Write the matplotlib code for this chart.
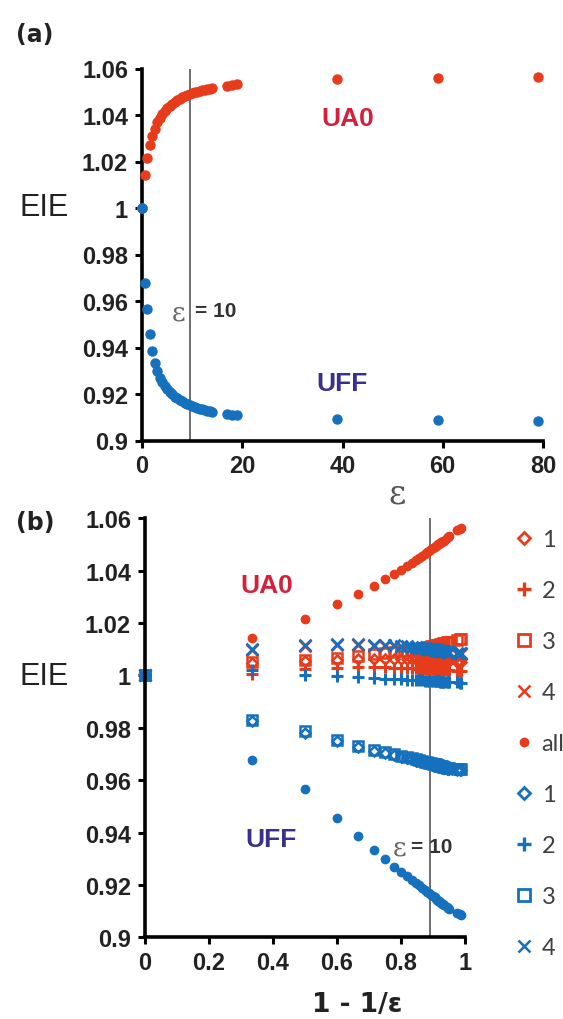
import matplotlib
matplotlib.use("Agg")
import matplotlib.pyplot as plt
from matplotlib.lines import Line2D
import numpy as np

# dielectric constants used in the scan
eps = [1, 1.5, 2, 2.5, 3, 3.5, 4, 4.5, 5, 5.5, 6, 6.5, 7, 7.5, 8, 8.5, 9, 9.5, 10,
       10.5, 11, 11.5, 12, 12.5, 13, 13.5, 14, 14.5, 15, 18, 19, 20, 40, 60, 80]

ua0_all = [1.000, 1.0142, 1.0215, 1.0272, 1.0310, 1.0340, 1.0368, 1.0388, 1.0404, 1.0418,
           1.0430, 1.0440, 1.0449, 1.0457, 1.0464, 1.0470, 1.0476, 1.0481, 1.0486, 1.0490,
           1.0494, 1.0497, 1.0500, 1.0503, 1.0506, 1.0508, 1.0511, 1.0513, 1.0515, 1.0526,
           1.0529, 1.0532, 1.0556, 1.0560, 1.0564]
uff_all = [1.000, 0.9677, 0.9565, 0.9457, 0.9386, 0.9332, 0.9298, 0.9270, 0.9250, 0.9234,
           0.9220, 0.9208, 0.9198, 0.9189, 0.9181, 0.9174, 0.9168, 0.9162, 0.9157, 0.9152,
           0.9148, 0.9144, 0.9140, 0.9137, 0.9134, 0.9131, 0.9128, 0.9126, 0.9124, 0.9114,
           0.9111, 0.9109, 0.9094, 0.9088, 0.9085]

ua0_1 = [1.000, 1.0047, 1.0054, 1.0060, 1.0062, 1.0063, 1.0063, 1.0063, 1.0062, 1.0062,
         1.0061, 1.0061, 1.0060, 1.0060, 1.0059, 1.0059, 1.0058, 1.0058, 1.0058, 1.0057,
         1.0057, 1.0057, 1.0056, 1.0056, 1.0056, 1.0056, 1.0055, 1.0055, 1.0055, 1.0054,
         1.0054, 1.0054, 1.0052, 1.0052, 1.0051]
ua0_2 = [1.000, 1.0005, 1.0024, 1.0030, 1.0032, 1.0032, 1.0031, 1.0030, 1.0029, 1.0028,
         1.0028, 1.0027, 1.0026, 1.0026, 1.0025, 1.0025, 1.0024, 1.0024, 1.0024, 1.0023,
         1.0023, 1.0023, 1.0022, 1.0022, 1.0022, 1.0022, 1.0021, 1.0021, 1.0021, 1.0020,
         1.0020, 1.0020, 1.0018, 1.0018, 1.0017]
ua0_3 = [1.000, 1.0050, 1.0058, 1.0068, 1.0075, 1.0080, 1.0085, 1.0089, 1.0092, 1.0095,
         1.0098, 1.0100, 1.0102, 1.0104, 1.0106, 1.0108, 1.0110, 1.0111, 1.0113, 1.0114,
         1.0115, 1.0116, 1.0117, 1.0118, 1.0119, 1.0120, 1.0121, 1.0122, 1.0123, 1.0126,
         1.0127, 1.0128, 1.0136, 1.0139, 1.0141]
ua0_4 = [1.000, 1.0098, 1.0114, 1.0115, 1.0115, 1.0114, 1.0113, 1.0111, 1.0109, 1.0107,
         1.0105, 1.0103, 1.0102, 1.0100, 1.0099, 1.0098, 1.0097, 1.0096, 1.0095, 1.0094,
         1.0093, 1.0093, 1.0092, 1.0091, 1.0091, 1.0090, 1.0090, 1.0089, 1.0089, 1.0087,
         1.0087, 1.0086, 1.0083, 1.0082, 1.0081]

uff_1 = [1.000, 0.9826, 0.9782, 0.9750, 0.9725, 0.9712, 0.9703, 0.9695, 0.9689, 0.9684,
         0.9679, 0.9675, 0.9672, 0.9669, 0.9666, 0.9664, 0.9662, 0.9660, 0.9658, 0.9657,
         0.9656, 0.9654, 0.9653, 0.9652, 0.9651, 0.9650, 0.9649, 0.9648, 0.9647, 0.9644,
         0.9643, 0.9642, 0.9640, 0.9639, 0.9638]
uff_2 = [1.000, 1.0021, 1.0003, 0.9998, 0.9993, 0.9990, 0.9988, 0.9986, 0.9985, 0.9984,
         0.9983, 0.9982, 0.9981, 0.9981, 0.9980, 0.9980, 0.9979, 0.9979, 0.9978, 0.9978,
         0.9978, 0.9977, 0.9977, 0.9977, 0.9976, 0.9976, 0.9976, 0.9976, 0.9975, 0.9975,
         0.9974, 0.9974, 0.9973, 0.9972, 0.9972]
uff_3 = [1.000, 0.9830, 0.9786, 0.9754, 0.9729, 0.9716, 0.9707, 0.9699, 0.9693, 0.9688,
         0.9683, 0.9679, 0.9676, 0.9673, 0.9670, 0.9668, 0.9666, 0.9664, 0.9662, 0.9661,
         0.9660, 0.9658, 0.9657, 0.9656, 0.9655, 0.9654, 0.9653, 0.9652, 0.9651, 0.9648,
         0.9647, 0.9646, 0.9644, 0.9643, 0.9642]
uff_4 = [1.000, 1.0102, 1.0118, 1.0119, 1.0119, 1.0118, 1.0117, 1.0115, 1.0113, 1.0111,
         1.0109, 1.0107, 1.0106, 1.0104, 1.0103, 1.0102, 1.0101, 1.0100, 1.0099, 1.0098,
         1.0097, 1.0097, 1.0096, 1.0095, 1.0095, 1.0094, 1.0094, 1.0093, 1.0093, 1.0091,
         1.0090, 1.0090, 1.0087, 1.0086, 1.0085]

y_ticks = [0.9, 0.92, 0.94, 0.96, 0.98, 1.0, 1.02, 1.04, 1.06]
y_labels = ["0.9", "0.92", "0.94", "0.96", "0.98", "1", "1.02", "1.04", "1.06"]
xa_ticks = [0, 20, 40, 60, 80]
xa_labels = ["0", "20", "40", "60", "80"]
xb_ticks = [0, 0.2, 0.4, 0.6, 0.8, 1]
xb_labels = ["0", "0.2", "0.4", "0.6", "0.8", "1"]

RED = "#e63c1c"
BLUE = "#1570be"
SANS = "Liberation Sans"
tick_font = dict(family=SANS, fontweight="bold", fontsize=17, color="#222222")

eps_arr = np.array(eps)
xb = 1 - 1 / eps_arr

fig = plt.figure(figsize=(5.63, 10.2), dpi=100)
ax_a = fig.add_axes([142 / 563, 1 - 441.5 / 1020, 401 / 563, 372 / 1020])
ax_b = fig.add_axes([145 / 563, 1 - 938.3 / 1020, 320 / 563, 419 / 1020])


def style_axes(ax):
    for s in ["top", "right"]:
        ax.spines[s].set_visible(False)
    for s in ["left", "bottom"]:
        ax.spines[s].set_linewidth(2.6)
    ax.tick_params(direction="out", length=5, width=2.2, pad=5)
    ax.set_ylim(0.9, 1.06)
    ax.set_yticks(y_ticks, y_labels, **tick_font)


# panel (a) -- source draws the scan one unit to the left
ax_a.plot(eps_arr - 1, ua0_all, "o", color=RED, ms=6.5, clip_on=False, zorder=3)
ax_a.plot(eps_arr - 1, uff_all, "o", color=BLUE, ms=6.5, clip_on=False, zorder=3)
ax_a.axvline(9.5, color="#555555", lw=1.2, zorder=1)
ax_a.set_xlim(0, 80)
ax_a.set_xticks(xa_ticks, xa_labels, **tick_font)
style_axes(ax_a)
ax_a.text(41, 1.0388, "UA0", color="#d4203a", fontsize=19, fontweight="bold", family=SANS,
          ha="center", va="center")
ax_a.text(40, 0.9246, "UFF", color="#3b2f8e", fontsize=19, fontweight="bold", family=SANS,
          ha="center", va="center")
ax_a.text(7.2, 0.9553, "ε", color="#666666", fontsize=19, family="DejaVu Serif",
          ha="center", va="center")
ax_a.text(10.5, 0.9558, "= 10", color="#333333", fontsize=15, fontweight="bold", family=SANS,
          ha="left", va="center")

# panel (b)
mk = dict(clip_on=False, linestyle="none")
ax_b.plot(xb, ua0_1, "D", mfc="none", mec=RED, mew=1.8, ms=5.5, **mk)
ax_b.plot(xb, ua0_2, "+", color=RED, mew=2.2, ms=9, **mk)
ax_b.plot(xb, ua0_3, "s", mfc="none", mec=RED, mew=1.8, ms=7, **mk)
ax_b.plot(xb, ua0_4, "x", color=RED, mew=1.8, ms=8, **mk)
ax_b.plot(xb, ua0_all, "o", color=RED, ms=6, **mk)
ax_b.plot(xb, uff_1, "D", mfc="none", mec=BLUE, mew=1.8, ms=5.5, **mk)
ax_b.plot(xb, uff_2, "+", color=BLUE, mew=2.2, ms=9, **mk)
ax_b.plot(xb, uff_3, "s", mfc="none", mec=BLUE, mew=1.8, ms=7, **mk)
ax_b.plot(xb, uff_4, "x", color=BLUE, mew=1.8, ms=8, **mk)
ax_b.plot(xb, uff_all, "o", color=BLUE, ms=6, **mk)
ax_b.axvline(0.89, color="#555555", lw=1.2, zorder=1)
ax_b.set_xlim(0, 1)
ax_b.set_xticks(xb_ticks, xb_labels, **tick_font)
style_axes(ax_b)
ax_b.text(0.381, 1.0344, "UA0", color="#d4203a", fontsize=19, fontweight="bold", family=SANS,
          ha="center", va="center")
ax_b.text(0.393, 0.9374, "UFF", color="#3b2f8e", fontsize=19, fontweight="bold", family=SANS,
          ha="center", va="center")
ax_b.text(0.795, 0.9343, "ε", color="#666666", fontsize=19, family="DejaVu Serif",
          ha="center", va="center")
ax_b.text(0.832, 0.9348, "= 10", color="#333333", fontsize=15, fontweight="bold", family=SANS,
          ha="left", va="center")

handles = [
    Line2D([], [], marker="D", mfc="none", mec=RED, mew=2, ms=6, ls="none"),
    Line2D([], [], marker="+", color=RED, mew=2.4, ms=10, ls="none"),
    Line2D([], [], marker="s", mfc="none", mec=RED, mew=2, ms=8, ls="none"),
    Line2D([], [], marker="x", color=RED, mew=1.8, ms=8, ls="none"),
    Line2D([], [], marker="o", color=RED, ms=6, ls="none"),
    Line2D([], [], marker="D", mfc="none", mec=BLUE, mew=2, ms=6, ls="none"),
    Line2D([], [], marker="+", color=BLUE, mew=2.4, ms=10, ls="none"),
    Line2D([], [], marker="s", mfc="none", mec=BLUE, mew=2, ms=8, ls="none"),
    Line2D([], [], marker="x", color=BLUE, mew=1.8, ms=8, ls="none"),
]
labels = ["1", "2", "3", "4", "all", "1", "2", "3", "4"]
leg = fig.legend(handles, labels, loc="upper left", bbox_to_anchor=(0.914, 1 - 530 / 1020),
                 frameon=False, handlelength=0.8, handletextpad=0.35,
                 labelspacing=1.27, borderpad=0, borderaxespad=0,
                 prop={"family": "Lato", "size": 17})
for t in leg.get_texts():
    t.set_color("#404040")

# labels
fig.text(0.028, 1 - 35 / 1020, "(a)", fontsize=17, fontweight="bold", ha="left", va="center",
         color="#222222")
fig.text(0.028, 1 - 523 / 1020, "(b)", fontsize=17, fontweight="bold", ha="left", va="center",
         color="#222222")
fig.text(44 / 563, 1 - 208 / 1020, "EIE", fontsize=22, family=SANS, ha="center", va="center",
         color="#222222")
fig.text(44 / 563, 1 - 677 / 1020, "EIE", fontsize=22, family=SANS, ha="center", va="center",
         color="#222222")
fig.text(397 / 563, 1 - 495 / 1020, "ε", fontsize=24, family="DejaVu Serif", ha="center",
         va="center", color="#555555")
fig.text(357 / 563, 1 - 1005 / 1020, "1 - 1/ε", fontsize=19, fontweight="bold", ha="center",
         va="center", color="#222222")

fig.savefig("out.png", dpi=100)
